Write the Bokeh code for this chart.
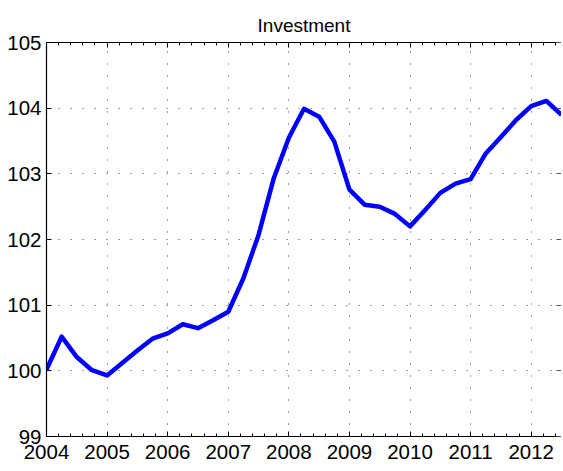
from bokeh.plotting import figure
from bokeh.models import (Range1d, LinearAxis, FixedTicker, SingleIntervalTicker,
                          ColumnDataSource)
from bokeh.embed import file_html
from bokeh.resources import INLINE

quarters = [2004.00, 2004.25, 2004.50, 2004.75, 2005.00, 2005.25, 2005.50, 2005.75,
            2006.00, 2006.25, 2006.50, 2006.75, 2007.00, 2007.25, 2007.50, 2007.75,
            2008.00, 2008.25, 2008.50, 2008.75, 2009.00, 2009.25, 2009.50, 2009.75,
            2010.00, 2010.25, 2010.50, 2010.75, 2011.00, 2011.25, 2011.50, 2011.75,
            2012.00, 2012.25, 2012.50]
investment = [100.02, 100.52, 100.21, 100.01, 99.93, 100.12, 100.31, 100.49,
              100.57, 100.71, 100.65, 100.77, 100.90, 101.41, 102.07, 102.93,
              103.55, 103.99, 103.87, 103.49, 102.76, 102.53, 102.50, 102.39,
              102.20, 102.45, 102.71, 102.85, 102.92, 103.31, 103.56, 103.82,
              104.03, 104.11, 103.90]
y_ticks = [99, 100, 101, 102, 103, 104, 105]
title_text = "Investment"

FONT = "Liberation Sans"

p = figure(width=561, height=469, output_backend="svg", toolbar_location=None,
           x_range=Range1d(2004, 2012.5), y_range=Range1d(99, 105),
           x_axis_location=None, y_axis_location=None,
           min_border_left=46, min_border_right=0, min_border_top=42, min_border_bottom=33)
p.outline_line_color = None
p.background_fill_color = "white"
p.border_fill_color = "white"

p.title.text = title_text
p.title.align = "center"
p.title.vertical_align = "top"
p.title.text_font = FONT
p.title.text_font_size = "19px"
p.title.text_font_style = "normal"
p.title.text_color = "black"
p.title.standoff = 10

xticker = SingleIntervalTicker(interval=1, num_minor_ticks=5)
yticker = FixedTicker(ticks=y_ticks)

def style(ax, labels=True):
    ax.axis_line_color = "black"
    ax.axis_line_width = 1.2
    ax.major_tick_in = 5
    ax.major_tick_out = 0
    ax.minor_tick_in = 3
    ax.minor_tick_out = 0
    ax.major_tick_line_color = "black"
    ax.minor_tick_line_color = "black"
    ax.major_label_text_font = FONT
    ax.major_label_text_font_size = "20.5px"
    ax.major_label_text_color = "black"
    if not labels:
        ax.major_label_text_font_size = "1px"
        ax.major_label_text_color = None
        ax.major_label_standoff = 0

bottom = LinearAxis(ticker=xticker)
style(bottom)
bottom.major_label_standoff = 8
p.add_layout(bottom, "below")

top = LinearAxis(ticker=xticker)
style(top, labels=False)
p.add_layout(top, "above")

left = LinearAxis(ticker=yticker)
style(left)
left.minor_tick_line_color = None
left.major_label_standoff = 5
p.add_layout(left, "left")

right = LinearAxis(ticker=yticker)
style(right, labels=False)
right.axis_line_color = None
right.minor_tick_line_color = None
right.major_tick_line_color = "#555555"
p.add_layout(right, "right")

p.xgrid.ticker = xticker
p.ygrid.ticker = yticker
for g in (p.xgrid, p.ygrid):
    g.grid_line_color = "black"
    g.grid_line_alpha = 0.75
    g.grid_line_width = 1
    g.grid_line_dash = "1 11"

src = ColumnDataSource(dict(x=quarters, y=investment))
p.line("x", "y", source=src, line_color="#0000ff", line_width=4.5, line_join="round")

open("out.html", "w").write(file_html(p, INLINE))
